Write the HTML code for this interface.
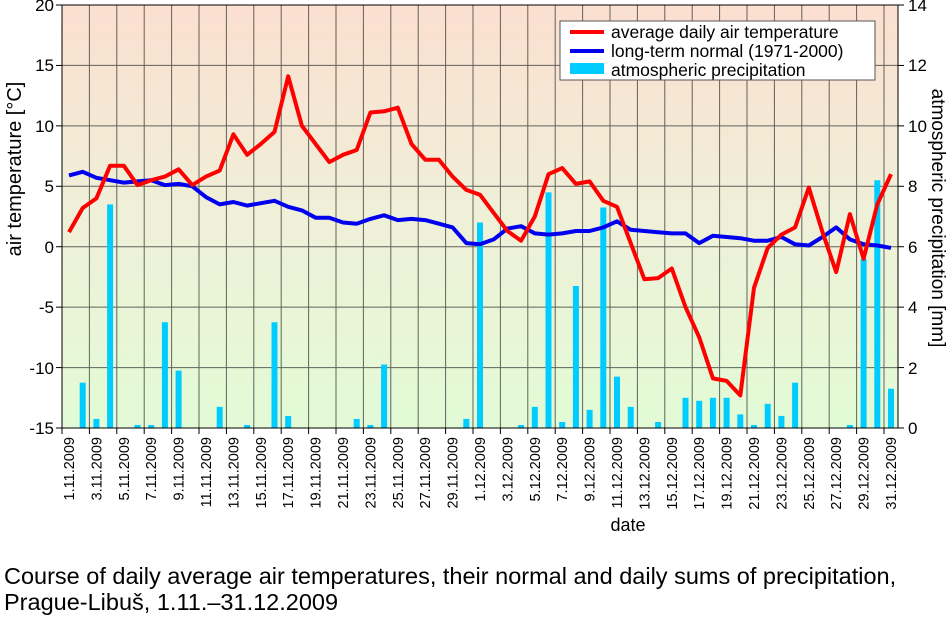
<!DOCTYPE html>
<html><head><meta charset="utf-8"><style>
html,body{margin:0;padding:0;background:#fff;}
svg{display:block;font-family:"Liberation Sans",Arial,sans-serif;}
</style></head><body>
<svg id="s" width="950" height="622" viewBox="0 0 950 622" xmlns="http://www.w3.org/2000/svg">
<defs><linearGradient id="bg" x1="0" y1="0" x2="0" y2="1">
<stop offset="0" stop-color="#fbdfcf"/><stop offset="0.5" stop-color="#eff0d8"/><stop offset="1" stop-color="#e2fbd6"/></linearGradient></defs>
<rect x="62" y="5" width="836" height="423" fill="url(#bg)"/>
<g id="grid" stroke="#333" stroke-width="1" opacity="0.75"></g>
<g id="bars" fill="#00ccff"></g>
<polyline id="blue" fill="none" stroke="#0000ee" stroke-width="4" stroke-linejoin="round"/>
<polyline id="red" fill="none" stroke="#ff0000" stroke-width="4" stroke-linejoin="round"/>
<rect x="62" y="5" width="836" height="423" fill="none" stroke="#000" stroke-width="1"/>
<g id="ticks" stroke="#000" stroke-width="1"></g>
<g font-size="17" text-anchor="end" fill="#000">
<text x="54" y="11">20</text><text x="54" y="71">15</text><text x="54" y="132">10</text><text x="54" y="192">5</text><text x="54" y="253">0</text><text x="54" y="313">-5</text><text x="54" y="374">-10</text><text x="54" y="434">-15</text>
</g>
<g font-size="17" text-anchor="start" fill="#000">
<text x="908" y="11">14</text><text x="908" y="71">12</text><text x="908" y="132">10</text><text x="908" y="192">8</text><text x="908" y="253">6</text><text x="908" y="313">4</text><text x="908" y="374">2</text><text x="908" y="434">0</text>
</g>
<text font-size="20" transform="translate(21,169) rotate(-90)" text-anchor="middle">air temperature [°C]</text>
<text font-size="19" transform="translate(932,218) rotate(90)" text-anchor="middle">atmospheric precipitation [mm]</text>
<g font-size="14.5" text-anchor="end" fill="#000" id="xl">
<text transform="translate(74,437) rotate(-90)">1.11.2009</text>
<text transform="translate(101.4,437) rotate(-90)">3.11.2009</text>
<text transform="translate(128.8,437) rotate(-90)">5.11.2009</text>
<text transform="translate(156.2,437) rotate(-90)">7.11.2009</text>
<text transform="translate(183.6,437) rotate(-90)">9.11.2009</text>
<text transform="translate(211,437) rotate(-90)">11.11.2009</text>
<text transform="translate(238.4,437) rotate(-90)">13.11.2009</text>
<text transform="translate(265.8,437) rotate(-90)">15.11.2009</text>
<text transform="translate(293.2,437) rotate(-90)">17.11.2009</text>
<text transform="translate(320.6,437) rotate(-90)">19.11.2009</text>
<text transform="translate(348,437) rotate(-90)">21.11.2009</text>
<text transform="translate(375.4,437) rotate(-90)">23.11.2009</text>
<text transform="translate(402.8,437) rotate(-90)">25.11.2009</text>
<text transform="translate(430.2,437) rotate(-90)">27.11.2009</text>
<text transform="translate(457.6,437) rotate(-90)">29.11.2009</text>
<text transform="translate(485,437) rotate(-90)">1.12.2009</text>
<text transform="translate(512.4,437) rotate(-90)">3.12.2009</text>
<text transform="translate(539.8,437) rotate(-90)">5.12.2009</text>
<text transform="translate(567.2,437) rotate(-90)">7.12.2009</text>
<text transform="translate(594.6,437) rotate(-90)">9.12.2009</text>
<text transform="translate(622,437) rotate(-90)">11.12.2009</text>
<text transform="translate(649.4,437) rotate(-90)">13.12.2009</text>
<text transform="translate(676.8,437) rotate(-90)">15.12.2009</text>
<text transform="translate(704.2,437) rotate(-90)">17.12.2009</text>
<text transform="translate(731.6,437) rotate(-90)">19.12.2009</text>
<text transform="translate(759,437) rotate(-90)">21.12.2009</text>
<text transform="translate(786.4,437) rotate(-90)">23.12.2009</text>
<text transform="translate(813.8,437) rotate(-90)">25.12.2009</text>
<text transform="translate(841.2,437) rotate(-90)">27.12.2009</text>
<text transform="translate(868.6,437) rotate(-90)">29.12.2009</text>
<text transform="translate(896,437) rotate(-90)">31.12.2009</text>
</g>
<text x="628" y="531" font-size="18" text-anchor="middle">date</text>
<rect x="560" y="21" width="315" height="59" fill="#fff" stroke="#555" stroke-width="1"/>
<line x1="570" y1="32" x2="604" y2="32" stroke="#ff0000" stroke-width="4"/>
<line x1="570" y1="51" x2="604" y2="51" stroke="#0000ee" stroke-width="4"/>
<rect x="570" y="63" width="34" height="11" fill="#00ccff"/>
<g font-size="17.5"><text x="611" y="38">average daily air temperature</text><text x="611" y="57">long-term normal (1971-2000)</text><text x="611" y="76">atmospheric precipitation</text></g>
<g font-size="23.5"><text x="4" y="584">Course of daily average air temperatures, their normal and daily sums of precipitation,</text><text x="4" y="610">Prague-Libuš, 1.11.–31.12.2009</text></g>
</svg>
<script>
var NS="http://www.w3.org/2000/svg";
function el(p,t,a){var e=document.createElementNS(NS,t);for(var k in a)e.setAttribute(k,a[k]);p.appendChild(e);}
var g=document.getElementById("grid"),tk=document.getElementById("ticks");
for(var k=1;k<=30;k++){var x=62+27.4*k;el(g,"line",{x1:x,y1:5,x2:x,y2:428});el(tk,"line",{x1:x,y1:428,x2:x,y2:434});}
el(tk,"line",{x1:62,y1:428,x2:62,y2:434});
for(var j=0;j<8;j++){var y=5+60.43*j;if(j>0&&j<7)el(g,"line",{x1:62,y1:y,x2:898,y2:y});el(tk,"line",{x1:56,y1:y,x2:62,y2:y});el(tk,"line",{x1:898,y1:y,x2:904,y2:y});}
var red=[1.2,3.2,4.0,6.7,6.7,5.1,5.5,5.8,6.4,5.1,5.8,6.3,9.3,7.6,8.5,9.5,14.1,10.0,8.5,7.0,7.6,8.0,11.1,11.2,11.5,8.5,7.2,7.2,5.8,4.7,4.3,2.8,1.3,0.5,2.5,6.0,6.5,5.2,5.4,3.8,3.3,0.3,-2.7,-2.6,-1.8,-5.0,-7.5,-10.9,-11.1,-12.3,-3.4,-0.1,1.0,1.6,4.9,1.2,-2.1,2.7,-1.0,3.5,6.0];
var blue=[5.9,6.2,5.7,5.5,5.3,5.4,5.5,5.1,5.2,5.0,4.1,3.5,3.7,3.4,3.6,3.8,3.3,3.0,2.4,2.4,2.0,1.9,2.3,2.6,2.2,2.3,2.2,1.9,1.6,0.3,0.2,0.6,1.5,1.7,1.1,1.0,1.1,1.3,1.3,1.6,2.1,1.4,1.3,1.2,1.1,1.1,0.3,0.9,0.8,0.7,0.5,0.5,0.8,0.2,0.1,0.8,1.6,0.6,0.2,0.1,-0.1];
var pr={1:1.5,2:0.3,3:7.4,5:0.1,6:0.1,7:3.5,8:1.9,11:0.7,13:0.1,15:3.5,16:0.4,21:0.3,22:0.1,23:2.1,29:0.3,30:6.8,33:0.1,34:0.7,35:7.8,36:0.2,37:4.7,38:0.6,39:7.3,40:1.7,41:0.7,43:0.2,45:1.0,46:0.9,47:1.0,48:1.0,49:0.45,50:0.1,51:0.8,52:0.4,53:1.5,57:0.1,58:5.6,59:8.2,60:1.3};
function X(i){return 69+13.7*i;}
function pts(a){return a.map(function(t,i){return X(i).toFixed(1)+","+(246.7-12.086*t).toFixed(1);}).join(" ");}
document.getElementById("red").setAttribute("points",pts(red));
document.getElementById("blue").setAttribute("points",pts(blue));
var b=document.getElementById("bars");
for(var i in pr){var h=pr[i]*30.21;el(b,"rect",{x:X(+i)-3,y:428-h,width:6,height:h});}
</script>
</body></html>
